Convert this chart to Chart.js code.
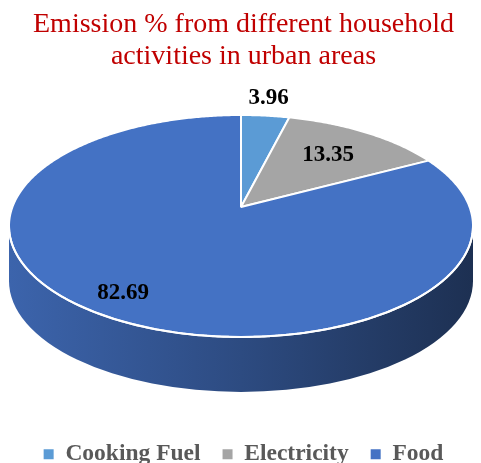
<!DOCTYPE html>
<html>
<head>
<meta charset="utf-8">
<script src="https://cdn.jsdelivr.net/npm/chart.js@4"></script>
<style>
  html, body { margin: 0; padding: 0; background: #fff; }
  #wrap { width: 481px; height: 463px; position: relative; }
</style>
</head>
<body>
<div id="wrap"><canvas id="c"></canvas></div>
<script>
// ---- data ----
const categories = ['Cooking Fuel', 'Electricity', 'Food'];
const emissionPct = [3.96, 13.35, 82.69];
const sliceColors = ['#5B9BD5', '#A5A5A5', '#4472C4'];
const titleLines = ['Emission % from different household', 'activities in urban areas'];

// ---- 3D look: projected ellipse on screen + perspective shift of the centre ----
const ELL = { cx: 241, cy: 226, rx: 232, ry: 111, depth: 55, centreShift: -19 };
// label placement per slice: radial factor and nudges
const LABEL_POS = [ { f: 1.02, dx: 3, dy: -16 }, { f: 0.67, dx: 0, dy: 0 }, { f: 0.87, dx: 0, dy: -6 } ];

const K = ELL.centreShift / ELL.ry;
const A = ELL.rx * Math.sqrt(1 - K * K);
function project(u, v) {          // unit-disc coords -> screen (perspective)
  const w = 1 + K * v;
  return { x: ELL.cx + A * u / w, y: ELL.cy + (ELL.ry * v + ELL.centreShift) / w };
}
function ellAngle(t) {            // disc angle -> screen-ellipse parameter angle
  const p = project(Math.cos(t), Math.sin(t));
  return Math.atan2((p.y - ELL.cy) / ELL.ry, (p.x - ELL.cx) / ELL.rx);
}

function shade(hex, k) {
  const n = parseInt(hex.slice(1), 16);
  const r = Math.round(((n >> 16) & 255) * k);
  const g = Math.round(((n >> 8) & 255) * k);
  const b = Math.round((n & 255) * k);
  return `rgb(${r},${g},${b})`;
}

const pie3d = {
  id: 'pie3d',
  beforeDatasetsDraw(chart) {
    const ctx = chart.ctx;
    const meta = chart.getDatasetMeta(0);
    const a0 = meta.data[0];
    const R = a0.outerRadius, ox = a0.x, oy = a0.y;
    // side walls (front half only)
    meta.data.forEach((arc, i) => {
      const ps = ellAngle(arc.startAngle);
      let span = ellAngle(arc.endAngle) - ps;
      span = ((span % (2 * Math.PI)) + 2 * Math.PI) % (2 * Math.PI);
      const s = ps, e = ps + span;
      for (const k of [-2 * Math.PI, 0, 2 * Math.PI]) {
        const a = Math.max(s, k), b = Math.min(e, k + Math.PI);
        if (a < b) {
          const col = sliceColors[i];
          const g = ctx.createLinearGradient(ELL.cx - ELL.rx, 0, ELL.cx + ELL.rx, 0);
          g.addColorStop(0, shade(col, 0.88));
          g.addColorStop(0.5, shade(col, 0.66));
          g.addColorStop(1, shade(col, 0.42));
          ctx.save();
          ctx.beginPath();
          ctx.ellipse(ELL.cx, ELL.cy, ELL.rx, ELL.ry, 0, a, b, false);
          ctx.ellipse(ELL.cx, ELL.cy + ELL.depth, ELL.rx, ELL.ry, 0, b, a, true);
          ctx.closePath();
          ctx.fillStyle = g;
          ctx.fill();
          ctx.restore();
        }
      }
    });
    // route the library's arc paths through the perspective projection
    const orig = { arc: ctx.arc, lineTo: ctx.lineTo, moveTo: ctx.moveTo };
    chart.$pie3dOrig = orig;
    const P = (x, y) => project((x - ox) / R, (y - oy) / R);
    ctx.moveTo = function (x, y) { const p = P(x, y); orig.moveTo.call(this, p.x, p.y); };
    ctx.lineTo = function (x, y) { const p = P(x, y); orig.lineTo.call(this, p.x, p.y); };
    ctx.arc = function (x, y, r, a1, a2, ccw) {
      let d = a2 - a1;
      if (!ccw && d < 0) d += 2 * Math.PI;
      if (ccw && d > 0) d -= 2 * Math.PI;
      const n = Math.max(2, Math.ceil(Math.abs(d) / 0.01));
      for (let j = 0; j <= n; j++) {
        const t = a1 + d * j / n;
        const p = P(x + r * Math.cos(t), y + r * Math.sin(t));
        orig.lineTo.call(this, p.x, p.y);
      }
    };
  },
  afterDatasetsDraw(chart) {
    const ctx = chart.ctx;
    if (chart.$pie3dOrig) { delete ctx.arc; delete ctx.lineTo; delete ctx.moveTo; }
    // white rim between top face and side
    ctx.save();
    ctx.beginPath();
    ctx.ellipse(ELL.cx, ELL.cy, ELL.rx, ELL.ry, 0, 0, Math.PI, false);
    ctx.strokeStyle = '#ffffff';
    ctx.lineWidth = 2;
    ctx.stroke();
    // value labels
    const meta = chart.getDatasetMeta(0);
    ctx.font = 'bold 23px "Liberation Serif", "Times New Roman", serif';
    ctx.fillStyle = '#000000';
    ctx.textAlign = 'center';
    ctx.textBaseline = 'middle';
    meta.data.forEach((arc, i) => {
      const mid = (arc.startAngle + arc.endAngle) / 2;
      const lp = LABEL_POS[i];
      const p = project(lp.f * Math.cos(mid), lp.f * Math.sin(mid));
      ctx.fillText(emissionPct[i].toFixed(2), p.x + lp.dx, p.y + lp.dy);
    });
    ctx.restore();
  }
};

new Chart(document.getElementById('c'), {
  type: 'pie',
  data: {
    labels: categories,
    datasets: [{
      data: emissionPct,
      backgroundColor: sliceColors,
      borderColor: '#ffffff',
      borderWidth: 2,
      clip: false
    }]
  },
  options: {
    responsive: true,
    maintainAspectRatio: false,
    animation: false,
    events: [],
    layout: { padding: { bottom: -13, left: 6 } },
    plugins: {
      title: {
        display: true,
        text: titleLines,
        color: '#C00000',
        font: { family: '"Liberation Serif", "Times New Roman", serif', size: 28, weight: 'normal', lineHeight: 1.16 },
        padding: { top: 8, bottom: 6 }
      },
      legend: {
        display: true,
        position: 'bottom',
        labels: {
          color: '#595959',
          font: { family: '"Liberation Serif", "Times New Roman", serif', size: 23.5, weight: 'bold' },
          boxWidth: 10,
          boxHeight: 10,
          padding: 22,
          generateLabels(chart) {
            const items = Chart.overrides.pie.plugins.legend.labels.generateLabels(chart);
            return items.map(it => Object.assign(it, { lineWidth: 0 }));
          }
        }
      },
      tooltip: { enabled: false }
    }
  },
  plugins: [pie3d]
});
</script>
</body>
</html>
